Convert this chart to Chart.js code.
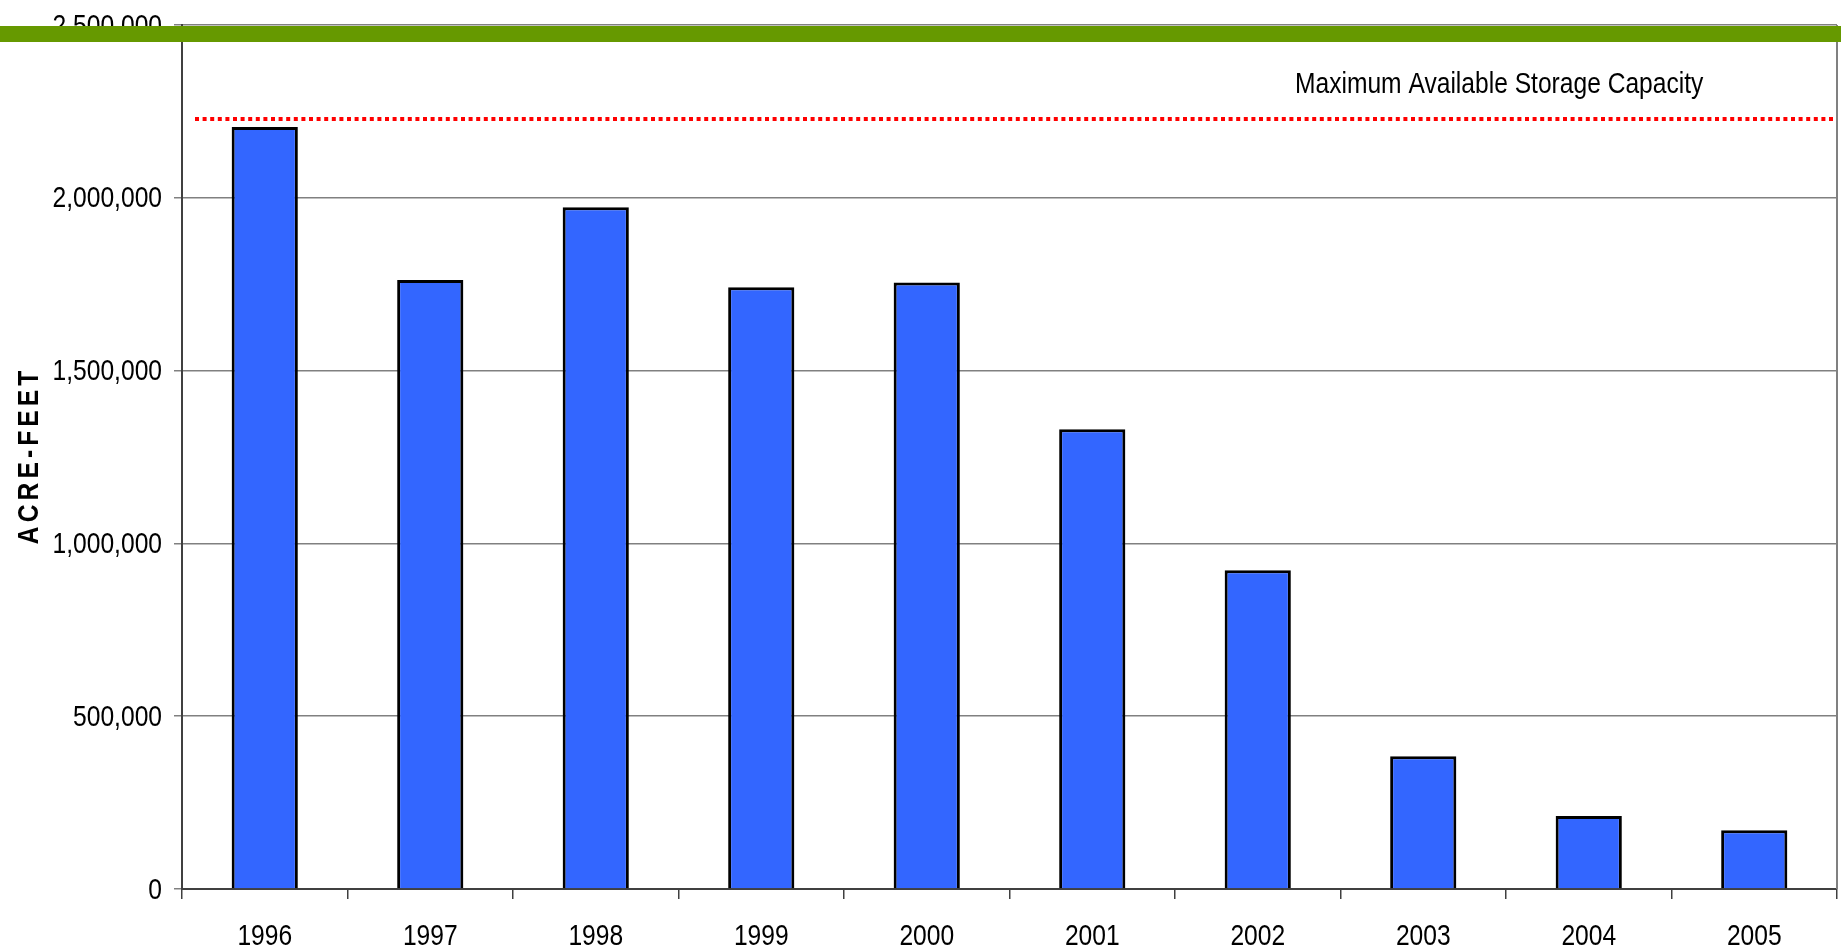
<!DOCTYPE html>
<html>
<head>
<meta charset="utf-8">
<script src="https://cdn.jsdelivr.net/npm/chart.js@4.4.1/dist/chart.umd.min.js"></script>
<style>
    html, body { margin: 0; padding: 0; background: #fff; }
    #wrap { width: 1841px; height: 950px; }
</style>
</head>
<body>
<div id="wrap"><canvas id="storageChart" width="1841" height="950"></canvas></div>
<script>
// Reservoir storage by year (acre-feet)
const years = ["1996", "1997", "1998", "1999", "2000", "2001", "2002", "2003", "2004", "2005"];
const storage = [2205000, 1762000, 1973000, 1741000, 1755000, 1330000, 922000, 384000, 211000, 170000];
const maxCapacity = 2228000;
const maxCapacityLabel = "Maximum Available Storage Capacity";
const yTicks = [0, 500000, 1000000, 1500000, 2000000, 2500000];

const FONT = "'Liberation Sans', Arial, sans-serif";
const NARROW = 0.82; // squeeze Liberation Sans to look like Arial Narrow

// draws text squeezed horizontally, anchored at (x, y)
function narrowText(ctx, text, x, y, align) {
    ctx.save();
    ctx.translate(x, y);
    ctx.scale(NARROW, 1);
    ctx.textAlign = align;
    ctx.fillText(text, 0, 0);
    ctx.restore();
}

// tick labels, capacity line + label, axis title, border and the green band
const overlayPlugin = {
    id: "overlay",
    afterDatasetsDraw(chart) {
        const { ctx, chartArea, scales } = chart;
        const y = Math.round(scales.y.getPixelForValue(maxCapacity));

        ctx.save();
        ctx.strokeStyle = "#ff0000";
        ctx.lineWidth = 4;
        ctx.setLineDash([4, 3.6]);
        ctx.beginPath();
        ctx.moveTo(chartArea.left + 13, y);
        ctx.lineTo(chartArea.right - 2, y);
        ctx.stroke();
        ctx.setLineDash([]);

        ctx.fillStyle = "#000";
        ctx.font = "30px " + FONT;
        ctx.textBaseline = "alphabetic";
        narrowText(ctx, maxCapacityLabel, chartArea.left + 1113, y - 26, "left");

        // right border of plot area
        ctx.strokeStyle = "#808080";
        ctx.lineWidth = 2;
        ctx.beginPath();
        ctx.moveTo(chartArea.right, chartArea.top);
        ctx.lineTo(chartArea.right, chartArea.bottom);
        ctx.stroke();
        ctx.restore();
    },
    afterDraw(chart) {
        const { ctx, chartArea, scales } = chart;
        ctx.save();
        ctx.fillStyle = "#000";
        ctx.font = "30px " + FONT;
        ctx.textBaseline = "alphabetic";

        // y tick labels
        scales.y.ticks.forEach(t => {
            const py = scales.y.getPixelForValue(t.value);
            narrowText(ctx, t.label, chartArea.left - 20, py + 9.5, "right");
        });

        // x tick labels
        scales.x.ticks.forEach((t, i) => {
            const px = scales.x.getPixelForTick(i);
            narrowText(ctx, scales.x.getLabelForValue(t.value), px, chartArea.bottom + 56, "center");
        });
        ctx.restore();

        // vertical axis title with letter spacing
        ctx.save();
        ctx.translate(30, (chartArea.top + chartArea.bottom) / 2);
        ctx.rotate(-Math.PI / 2);
        ctx.scale(NARROW, 1);
        ctx.font = "bold 30px " + FONT;
        ctx.letterSpacing = "5px";
        ctx.fillStyle = "#000";
        ctx.textAlign = "center";
        ctx.textBaseline = "middle";
        ctx.fillText("ACRE-FEET", 2, 0);
        ctx.restore();

        // green header band
        ctx.save();
        ctx.fillStyle = "#669900";
        ctx.fillRect(0, chartArea.top + 1, chart.width, 16);
        ctx.restore();
    }
};

const ctx = document.getElementById("storageChart").getContext("2d");
new Chart(ctx, {
    type: "bar",
    data: {
        labels: years,
        datasets: [{
            label: "Storage",
            data: storage,
            backgroundColor: "#3366ff",
            borderColor: "#000",
            borderWidth: 3,
            barPercentage: 0.4,
            categoryPercentage: 1
        }]
    },
    options: {
        responsive: false,
        animation: false,
        layout: { padding: { top: 25, right: 4, left: 0, bottom: 0 } },
        plugins: {
            legend: { display: false },
            tooltip: { enabled: false }
        },
        scales: {
            x: {
                grid: {
                    offset: true,
                    drawOnChartArea: false,
                    drawTicks: true,
                    tickLength: 10,
                    color: "#404040",
                    lineWidth: 1.5
                },
                border: { color: "#404040", width: 2 },
                ticks: { display: false },
                afterFit(scale) { scale.height = 61; }
            },
            y: {
                min: 0,
                max: 2500000,
                afterBuildTicks(scale) {
                    scale.ticks = yTicks.map(v => ({ value: v }));
                },
                grid: {
                    color: "#808080",
                    lineWidth: 1.5,
                    tickLength: 8
                },
                border: { color: "#404040", width: 2 },
                ticks: {
                    display: false,
                    callback: v => v.toLocaleString("en-US")
                },
                afterFit(scale) { scale.width = 182; }
            }
        }
    },
    plugins: [overlayPlugin]
});
</script>
</body>
</html>
